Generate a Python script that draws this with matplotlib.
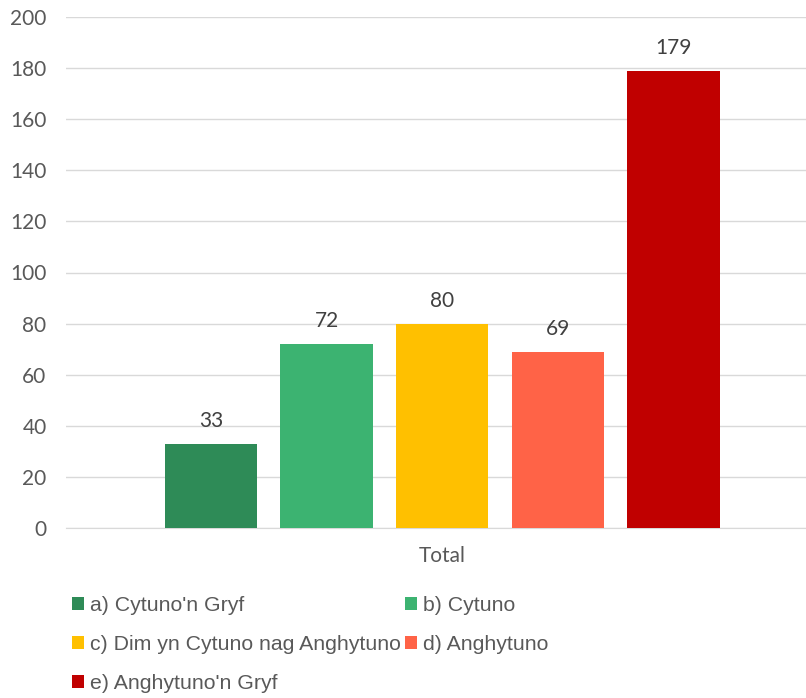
import matplotlib
matplotlib.use("Agg")
import matplotlib.pyplot as plt
from matplotlib.patches import Patch

categories = ["a) Cytuno'n Gryf", "b) Cytuno", "c) Dim yn Cytuno nag Anghytuno",
              "d) Anghytuno", "e) Anghytuno'n Gryf"]
values = [33, 72, 80, 69, 179]
colors = ["#2E8B57", "#3CB371", "#FFC000", "#FF6347", "#C00000"]
yticks = [0, 20, 40, 60, 80, 100, 120, 140, 160, 180, 200]
xlabel = "Total"

W, H = 806, 698
fig = plt.figure(figsize=(W / 100, H / 100), dpi=100)
ax = fig.add_axes([66 / W, (H - 528) / H, (806 - 66) / W, (528 - 17) / H])

x = list(range(len(values)))
bars = ax.bar(x, values, width=0.8, color=colors, zorder=3)
for xi, v in zip(x, values):
    ax.text(xi, v + 5, str(v), ha="center", va="bottom", fontsize=15,
            color="#404040", family="Lato")

ax.set_ylim(0, 200)
ax.set_xlim(-1.255, 5.147)
ax.set_yticks(yticks)
ax.set_yticklabels([str(t) for t in yticks], fontsize=15, color="#595959", family="Lato")
ax.set_xticks([2])
ax.set_xticklabels([xlabel], fontsize=15, color="#595959", family="Lato")
ax.tick_params(axis="both", length=0)
ax.tick_params(axis="y", pad=14)
ax.tick_params(axis="x", pad=13)
ax.grid(axis="y", color="#D9D9D9", linewidth=1, zorder=0)
for s in ["top", "right", "left"]:
    ax.spines[s].set_visible(False)
ax.spines["bottom"].set_color("#D9D9D9")

handles = [Patch(facecolor=c, label=l) for c, l in zip(colors, categories)]
order = [0, 2, 4, 1, 3]
leg = fig.legend([handles[i] for i in order], [categories[i] for i in order],
                 ncol=2, loc="upper left", bbox_to_anchor=(72 / W, 1 - 596 / H),
                 frameon=False, handlelength=0.55, handleheight=0.55,
                 handletextpad=0.3, columnspacing=0.2, labelspacing=0.95,
                 borderaxespad=0, borderpad=0,
                 prop={"family": "Liberation Sans", "size": 15.3})
for t in leg.get_texts():
    t.set_color("#595959")

fig.savefig("out.png", dpi=100)
